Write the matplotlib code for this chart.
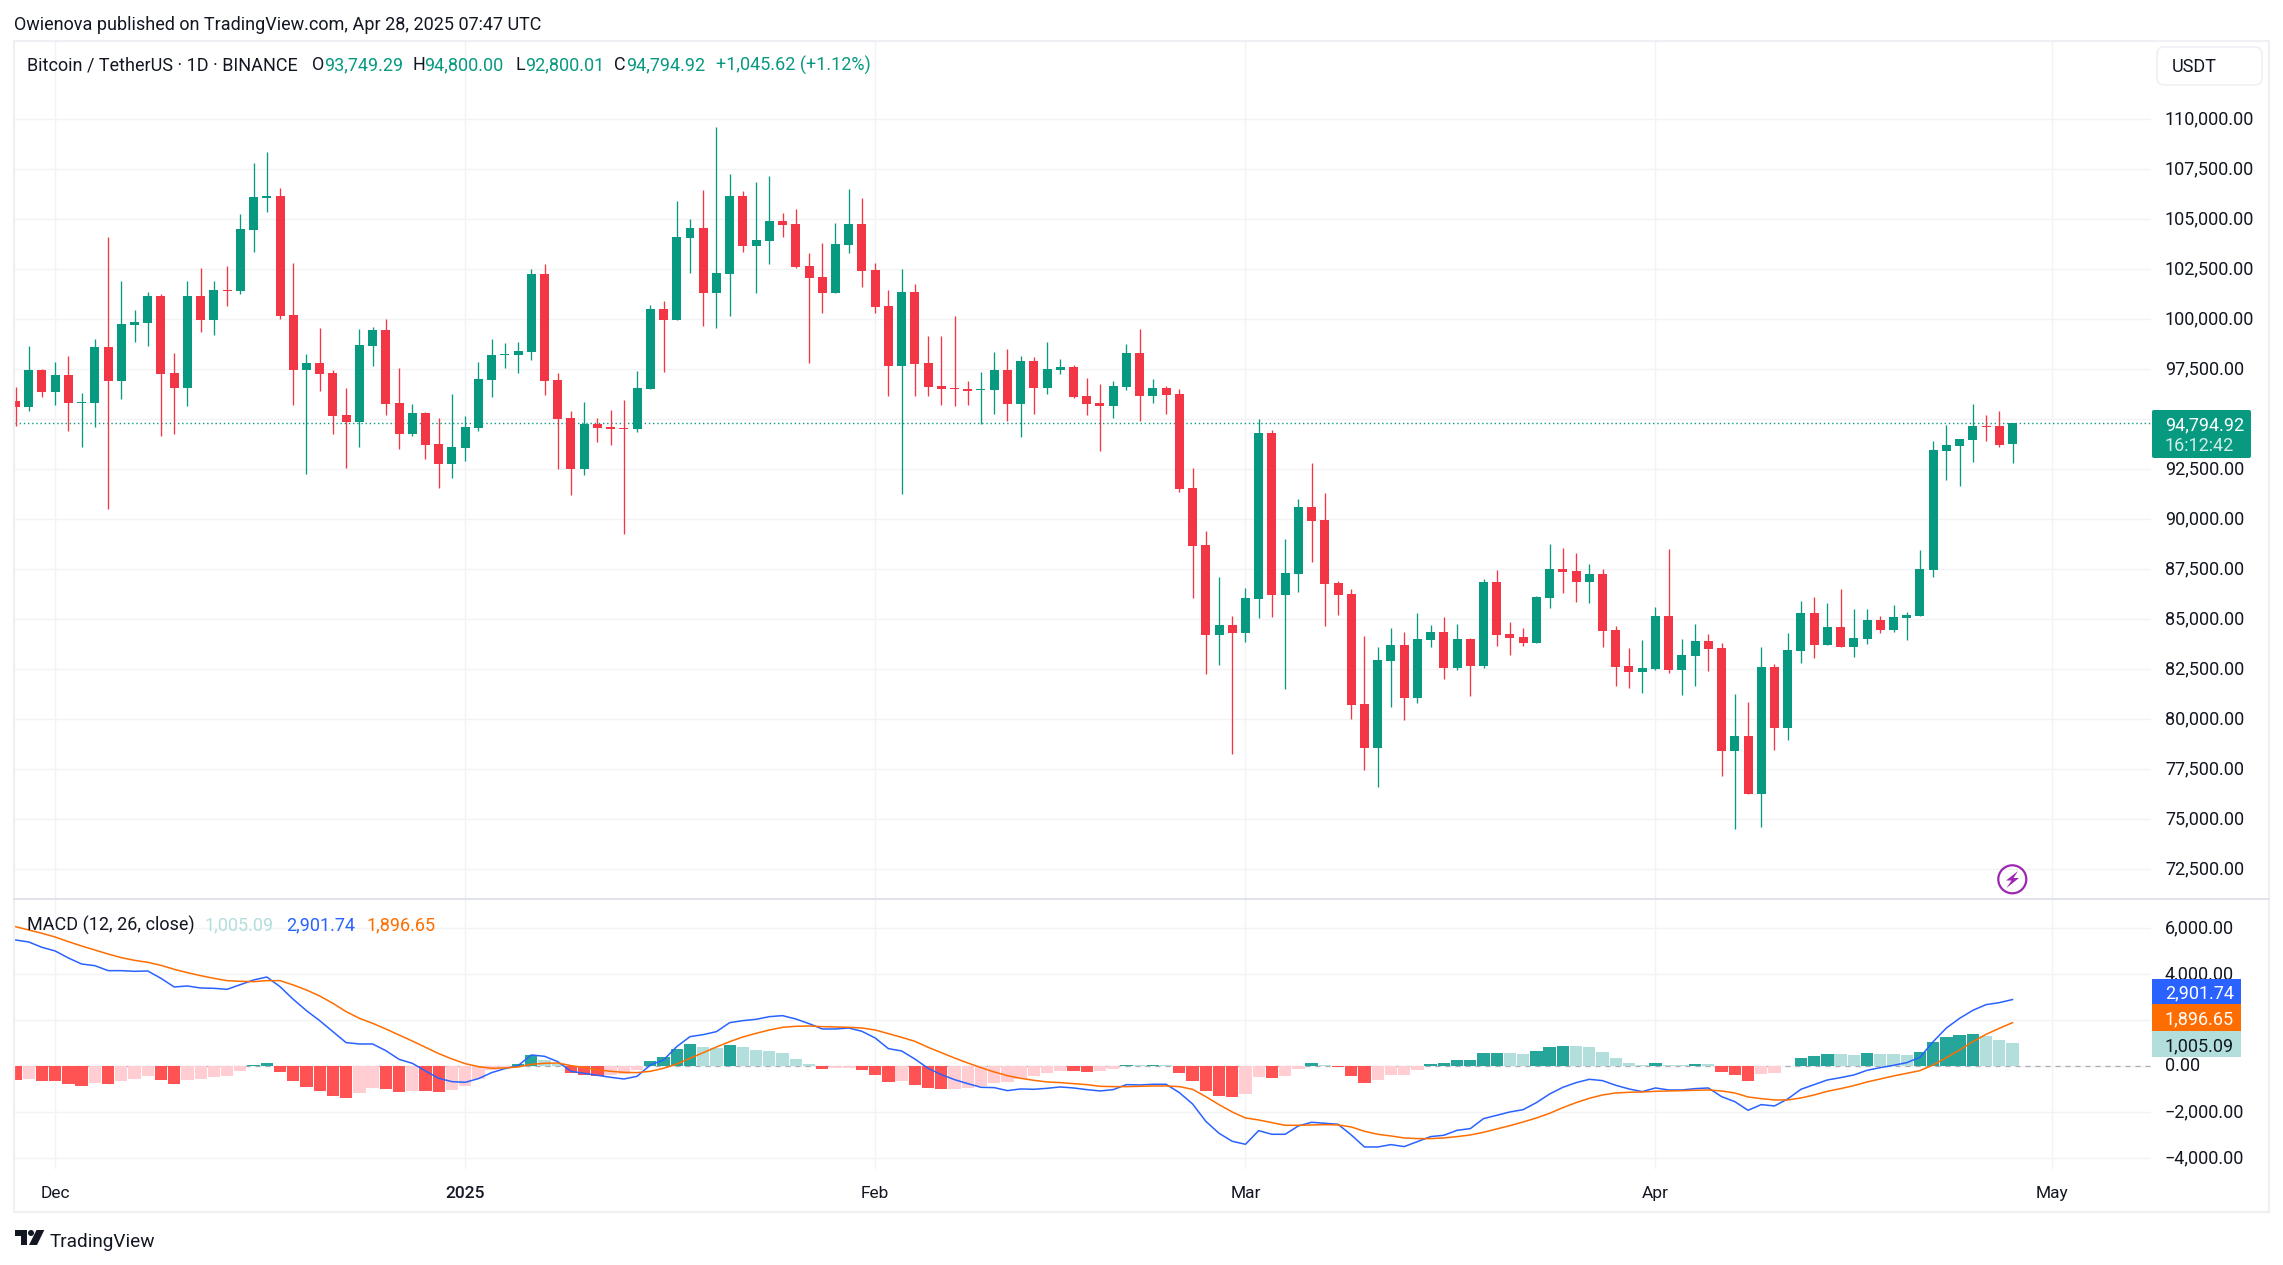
#!/usr/bin/env python3

import numpy as np

import matplotlib
matplotlib.use('Agg')
import matplotlib.pyplot as plt
from matplotlib.patches import Circle, FancyBboxPatch, Polygon, Rectangle

# daily candles, 28 Nov 2024 to 28 Apr 2025
opens = [
    95920, 95620, 97470, 96370, 97220, 95820, 95820, 98620, 96920, 99720, 99820, 101170, 97320, 96570, 101170, 99970,
    101470, 101420, 104470, 106070, 106170, 100220, 97470, 97820, 97320, 95220, 94870, 98670, 99470, 95820, 94270, 95320,
    93770, 92770, 93570, 94570, 96970, 98220, 98220, 98370, 102270, 96970, 95070, 92520, 94770, 94620, 94570, 94520,
    96520, 100520, 99970, 104070, 104570, 101320, 102270, 106170, 103670, 103920, 104920, 104770, 102670, 102120, 101320, 103720,
    104770, 102470, 100670, 97670, 101370, 97820, 96670, 96570, 96520, 96470, 96470, 97470, 95770, 97920, 96570, 97470,
    97620, 96170, 95820, 95670, 96620, 98320, 96170, 96570, 96270, 91570, 88720, 84220, 84720, 84320, 86020, 94320,
    86220, 87270, 90620, 89970, 86820, 86270, 80770, 78570, 82920, 83720, 81070, 83970, 84370, 82570, 84020, 82670,
    86870, 84270, 84120, 83820, 86070, 87520, 87420, 86870, 87270, 84470, 82670, 82370, 82520, 85170, 82470, 83170,
    83920, 83570, 78420, 79170, 76270, 82620, 79570, 83420, 85320, 83720, 84620, 83620, 84020, 84970, 84470, 85070,
    85170, 87470, 93420, 93670, 93970, 94670, 94670, 93749.29,
]
highs = [
    96630, 98670, 97520, 97870, 98170, 96320, 99020, 104120, 101920, 100470, 101370, 101270, 98320, 101920, 102570, 101920,
    102670, 105270, 107820, 108370, 106570, 102820, 98270, 99570, 97470, 96570, 99520, 99620, 100020, 97570, 95770, 95370,
    95070, 96270, 95170, 97870, 99020, 98820, 98870, 102520, 102770, 97320, 95420, 95870, 95070, 95470, 95970, 97420,
    100720, 100920, 105920, 105020, 106470, 109620, 107270, 106420, 106870, 107170, 105320, 105520, 103320, 103820, 104820, 106520,
    106070, 102820, 101470, 102520, 101770, 99170, 99170, 100170, 96920, 97370, 98370, 98520, 98170, 98120, 98870, 98020,
    97720, 97070, 96770, 96920, 98770, 99520, 97020, 96670, 96520, 92570, 89420, 87120, 85170, 86570, 95020, 94470,
    89020, 91020, 92820, 91320, 86920, 86520, 84170, 83620, 84570, 84370, 85320, 84720, 85120, 84770, 84070, 87020,
    87470, 84870, 84570, 86170, 88770, 88570, 88320, 87770, 87520, 84670, 83570, 83970, 85620, 88520, 84020, 84770,
    84270, 83820, 81270, 80870, 83620, 82770, 84320, 85920, 86120, 85820, 86520, 85520, 85520, 85170, 85720, 85370,
    88470, 93920, 94720, 94020, 95770, 95220, 95420, 94800.00,
]
lows = [
    94670, 95420, 96120, 95720, 94420, 93620, 94620, 90520, 96020, 98870, 98670, 94170, 94270, 95670, 99370, 99220,
    100670, 101270, 103370, 105370, 100020, 95720, 92270, 96420, 94270, 92570, 93620, 97670, 95220, 93520, 94170, 93020,
    91570, 92070, 92920, 94420, 96120, 97570, 97320, 97970, 96220, 92520, 91220, 92220, 93870, 93720, 89270, 94370,
    96520, 97370, 99970, 102320, 99670, 99570, 100170, 103370, 101320, 102770, 104120, 102570, 97820, 100320, 101320, 103320,
    101620, 100320, 96170, 91270, 96170, 96170, 95720, 95670, 95720, 94770, 95270, 94920, 94120, 95270, 96270, 97270,
    96070, 95220, 93420, 95070, 96470, 94920, 95820, 95270, 91370, 86070, 82270, 82720, 78270, 83870, 85070, 85120,
    81520, 86370, 87870, 84670, 85220, 80020, 77470, 76620, 80620, 79970, 80820, 83620, 82020, 82470, 81170, 82570,
    83670, 83220, 83670, 83820, 85570, 86320, 85870, 85820, 83620, 81670, 81570, 81320, 82470, 82320, 81220, 81670,
    82420, 77170, 74520, 76270, 74620, 78470, 78970, 82820, 83070, 83720, 83620, 83120, 83770, 84320, 84370, 83970,
    85170, 87120, 91970, 91670, 92870, 93920, 93620, 92800.01,
]
closes = [
    95620, 97470, 96370, 97220, 95820, 95870, 98620, 96920, 99770, 99870, 101170, 97270, 96570, 101170, 99970, 101470,
    101420, 104520, 106120, 106170, 100170, 97470, 97820, 97270, 95170, 94870, 98720, 99470, 95770, 94270, 95320, 93720,
    92770, 93620, 94620, 97020, 98220, 98270, 98420, 102270, 96920, 95020, 92520, 94770, 94570, 94520, 94520, 96570,
    100520, 99970, 104120, 104570, 101320, 102320, 106170, 103670, 103970, 104920, 104720, 102620, 102070, 101320, 103770, 104770,
    102420, 100620, 97670, 101370, 97770, 96620, 96520, 96520, 96420, 96520, 97470, 95770, 97920, 96570, 97520, 97620,
    96120, 95770, 95670, 96670, 98320, 96170, 96570, 96220, 91520, 88670, 84220, 84720, 84320, 86070, 94320, 86220,
    87320, 90620, 89920, 86770, 86220, 80720, 78570, 82970, 83720, 81070, 84020, 84370, 82570, 84020, 82670, 86870,
    84220, 84070, 83820, 86120, 87520, 87370, 86870, 87270, 84420, 82620, 82370, 82570, 85170, 82470, 83220, 83920,
    83520, 78420, 79170, 76270, 82620, 79570, 83470, 85320, 83720, 84620, 83620, 84070, 84970, 84470, 85120, 85220,
    87520, 93470, 93720, 94020, 94670, 94620, 93720, 94794.92,
]

# MACD (12, 26, close)
macd_line = [
    5492, 5405, 5173, 5014, 4709, 4448, 4376, 4159, 4159, 4130, 4144, 3825, 3449, 3492, 3405, 3391,
    3347, 3550, 3753, 3883, 3463, 2912, 2420, 1985, 1507, 1029, 971, 971, 681, 304, 130, -203,
    -522, -667, -696, -536, -275, -101, 29, 493, 435, 203, -217, -304, -391, -478, -551, -435,
    58, 275, 855, 1290, 1377, 1507, 1898, 1985, 2043, 2159, 2202, 2058, 1855, 1623, 1623, 1666,
    1521, 1232, 768, 667, 319, -87, -362, -580, -753, -913, -927, -1058, -985, -1000, -956, -898,
    -942, -1014, -1072, -1014, -797, -811, -782, -782, -1145, -1637, -2391, -2912, -3260, -3391, -2797, -2956,
    -2956, -2594, -2434, -2478, -2521, -2985, -3507, -3507, -3405, -3492, -3275, -3057, -2999, -2782, -2710, -2275,
    -2130, -1985, -1884, -1579, -1203, -913, -710, -565, -623, -826, -985, -1101, -942, -1029, -1029, -971,
    -942, -1319, -1536, -1913, -1666, -1724, -1420, -1000, -797, -594, -493, -377, -174, -58, 43, 159,
    391, 1072, 1666, 2087, 2434, 2681, 2768, 2901.74,
]
signal_line = [
    6071, 5926, 5782, 5622, 5419, 5231, 5057, 4883, 4724, 4608, 4521, 4390, 4217, 4072, 3941, 3825,
    3724, 3695, 3680, 3724, 3724, 3536, 3318, 3057, 2739, 2376, 2087, 1869, 1623, 1362, 1101, 826,
    551, 319, 116, -14, -87, -72, -29, 87, 130, 145, 29, -58, -145, -217, -261, -275,
    -217, -87, 101, 348, 594, 840, 1072, 1275, 1435, 1579, 1695, 1739, 1753, 1724, 1710, 1695,
    1666, 1579, 1420, 1261, 1087, 826, 594, 362, 145, -58, -246, -406, -522, -609, -681, -710,
    -753, -797, -869, -884, -884, -869, -855, -855, -884, -1000, -1319, -1666, -1985, -2246, -2333, -2449,
    -2565, -2565, -2550, -2536, -2550, -2637, -2826, -2956, -3028, -3115, -3144, -3144, -3115, -3057, -2985, -2869,
    -2724, -2579, -2420, -2246, -2043, -1797, -1579, -1391, -1246, -1159, -1130, -1116, -1087, -1072, -1058, -1043,
    -1029, -1072, -1159, -1333, -1406, -1463, -1463, -1377, -1246, -1087, -971, -840, -681, -551, -420, -304,
    -188, 58, 377, 710, 1072, 1391, 1652, 1896.65,
]
macd_hist = [
    -594, -551, -638, -652, -768, -855, -725, -768, -638, -551, -420, -594, -768, -594, -551, -464,
    -420, -203, 58, 145, -246, -638, -898, -1072, -1290, -1377, -1159, -942, -985, -1116, -1072, -1087,
    -1116, -1029, -855, -551, -159, -58, 101, 478, 275, 116, -290, -391, -406, -377, -319, -174,
    246, 406, 753, 971, 840, 797, 927, 840, 710, 667, 580, 319, 101, -116, -87, -58,
    -159, -377, -681, -638, -811, -942, -985, -971, -942, -855, -725, -681, -551, -420, -290, -203,
    -217, -232, -203, -116, 58, 43, 58, 43, -290, -638, -1072, -1290, -1333, -1203, -464, -507,
    -420, -116, 145, 58, -29, -420, -725, -594, -377, -362, -159, 101, 145, 275, 290, 580,
    594, 580, 536, 667, 840, 884, 869, 840, 623, 362, 145, 58, 145, 58, 43, 101,
    94, -246, -377, -638, -333, -290, 15, 362, 449, 536, 522, 507, 580, 536, 522, 493,
    623, 1058, 1275, 1362, 1406, 1319, 1145, 1005.09,
]

month_labels = ['Dec', '2025', 'Feb', 'Mar', 'Apr', 'May']
month_idx = [3, 34, 65, 93, 124, 154]
price_ticks = [72500 + 2500 * i for i in range(16)]
macd_ticks = [-4000, -2000, 0, 2000, 4000, 6000]

last_price = closes[-1]

W, H = 2283, 1265
UP, DOWN = '#089981', '#F23645'
GRID = '#f2f3f5'
TEXT = '#131722'
FRAME = '#eef0f4'

plt.rcParams['font.family'] = ['Roboto', 'DejaVu Sans']

fig = plt.figure(figsize=(W / 100, H / 100), dpi=100)

# pane edges in pixels
left, right = 14.5, 2151
main_top, split, macd_bottom = 41, 899, 1169

def pane(top, bottom):
    return fig.add_axes([left / W, 1 - bottom / H, (right - left) / W, (bottom - top) / H])

ax = pane(main_top, split)
ax2 = pane(split, macd_bottom)

x = np.arange(len(closes))
o, h, l, c = map(np.array, (opens, highs, lows, closes))
up = c >= o
colours = np.where(up, UP, DOWN)

ax.vlines(x, l, h, colors=colours, linewidth=0.95, zorder=3)
ax.bar(x, np.maximum(np.abs(c - o), 40), bottom=np.minimum(o, c), width=0.68, color=colours, linewidth=0, zorder=4)
ax.axhline(last_price, color=UP, linestyle=(0, (1, 2)), linewidth=1, zorder=2)

ax.set_ylim(71015, 113915)
ax.set_yticks(price_ticks)
# the 95,000 label sits behind the last price tag in the reference
ax.set_yticklabels(['' if t == 95000 else f'{t:,.2f}' for t in price_ticks])

hist = np.array(macd_hist)
prev = np.r_[0, hist[:-1]]
bar_colours = []
for v, p in zip(hist, prev):
    if v >= 0:
        bar_colours.append('#26A69A' if v > p else '#B2DFDB')
    else:
        bar_colours.append('#FF5252' if v < p else '#FFCDD2')
ax2.axhline(0, color='#a9acb3', linestyle=(0, (4, 4)), linewidth=0.9, zorder=1)
ax2.bar(x, hist, width=0.93, color=bar_colours, linewidth=0, zorder=2)
ax2.plot(x, macd_line, color='#2962FF', linewidth=1.1, zorder=3)
ax2.plot(x, signal_line, color='#FF6D00', linewidth=1.1, zorder=4)

ax2.set_ylim(-4465, 7274)
ax2.set_yticks(macd_ticks)
ax2.set_yticklabels([f'{t:,.2f}'.replace('-', '\u2212') for t in macd_ticks])

for a in (ax, ax2):
    a.set_xlim(-0.076, 161.47)
    a.set_axisbelow(True)
    a.grid(True, color=GRID, linewidth=1)
    a.yaxis.tick_right()
    a.tick_params(axis='y', length=0, pad=10, labelsize=13, labelcolor=TEXT)
    for t in a.get_yticklabels():
        t.set_verticalalignment('center')
    a.set_xticks(month_idx)
    for s in a.spines.values():
        s.set_visible(False)
ax.tick_params(axis='x', length=0, labelbottom=False)
ax2.set_xticklabels(month_labels)
ax2.tick_params(axis='x', length=0, pad=12, labelsize=12.5, labelcolor=TEXT)
ax2.get_xticklabels()[1].set_fontweight('medium')

# everything around the panes is placed in pixels on a clear overlay
over = fig.add_axes([0, 0, 1, 1], zorder=10)
over.set_xlim(0, W)
over.set_ylim(H, 0)
over.axis('off')

over.add_patch(Rectangle((14, 40.5), 2254.5, 1171.5, fill=False, edgecolor=FRAME, linewidth=1.6))
over.plot([14, 2268.5], [899, 899], color='#e0e3eb', linewidth=1.4)

def label(px, py, s, color=TEXT, size=13, ha='left', **kw):
    over.text(px, py, s, color=color, fontsize=size, ha=ha, va='center_baseline', **kw)

label(14, 23, 'Owienova published on TradingView.com, Apr 28, 2025 07:47 UTC')

label(27, 63, 'Bitcoin / TetherUS \u00b7 1D \u00b7 BINANCE')
for px, s in [(312, 'O'), (413, 'H'), (515.5, 'L'), (614, 'C')]:
    label(px, 63, s)
for px, s in [(324, '93,749.29'), (424, '94,800.00'), (525, '92,800.01'), (626, '94,794.92'), (716, '+1,045.62 (+1.12%)')]:
    label(px, 63, s, color=UP)

label(27, 923, 'MACD (12, 26, close)')
label(205, 923, '1,005.09', color='#B2DFDB')
label(286, 923, '2,901.74', color='#2962FF')
label(366, 923, '1,896.65', color='#FF6D00')

over.add_patch(FancyBboxPatch((2160, 50), 99, 32, boxstyle='round,pad=3,rounding_size=7',
                              facecolor='white', edgecolor=FRAME, linewidth=1.2))
label(2172, 65, 'USDT')

# last price tag
over.add_patch(FancyBboxPatch((2153, 411), 97, 46, boxstyle='round,pad=1,rounding_size=2', facecolor=UP, edgecolor='none'))
label(2165, 423, f'{last_price:,.2f}', color='white')
label(2165, 444, '16:12:42', color='#cfeee6')

# MACD value tags
for top, bot, col, tcol, s in [(979, 1004, '#2962FF', 'white', '2,901.74'),
                               (1004, 1031, '#FF6D00', 'white', '1,896.65'),
                               (1031, 1057, '#B2DFDB', TEXT, '1,005.09')]:
    over.add_patch(Rectangle((2152, top), 89, bot - top, facecolor=col, edgecolor='none'))
    label(2165, (top + bot) / 2, s, color=tcol)

# lightning badge
over.add_patch(Circle((2012.3, 879.3), 14, fill=False, edgecolor='#9C27B0', linewidth=1.6))
over.add_patch(Polygon([(2018, 871), (2006, 880.5), (2011.5, 880.5), (2006.5, 888), (2019, 878), (2013.5, 878)],
                       closed=True, facecolor='#9C27B0', edgecolor='none'))

# TradingView logo
over.add_patch(Polygon([(15, 1230), (27, 1230), (27, 1245), (21, 1245), (21, 1236), (15, 1236)], closed=True,
                       facecolor=TEXT, edgecolor='none'))
over.add_patch(Circle((31, 1233), 3, facecolor=TEXT, edgecolor='none'))
over.add_patch(Polygon([(36.5, 1230), (44.3, 1230), (37, 1245), (29, 1245)], closed=True, facecolor=TEXT, edgecolor='none'))
label(50, 1240, 'TradingView', size=13.7)

fig.savefig('out.png', dpi=100, facecolor='white')
